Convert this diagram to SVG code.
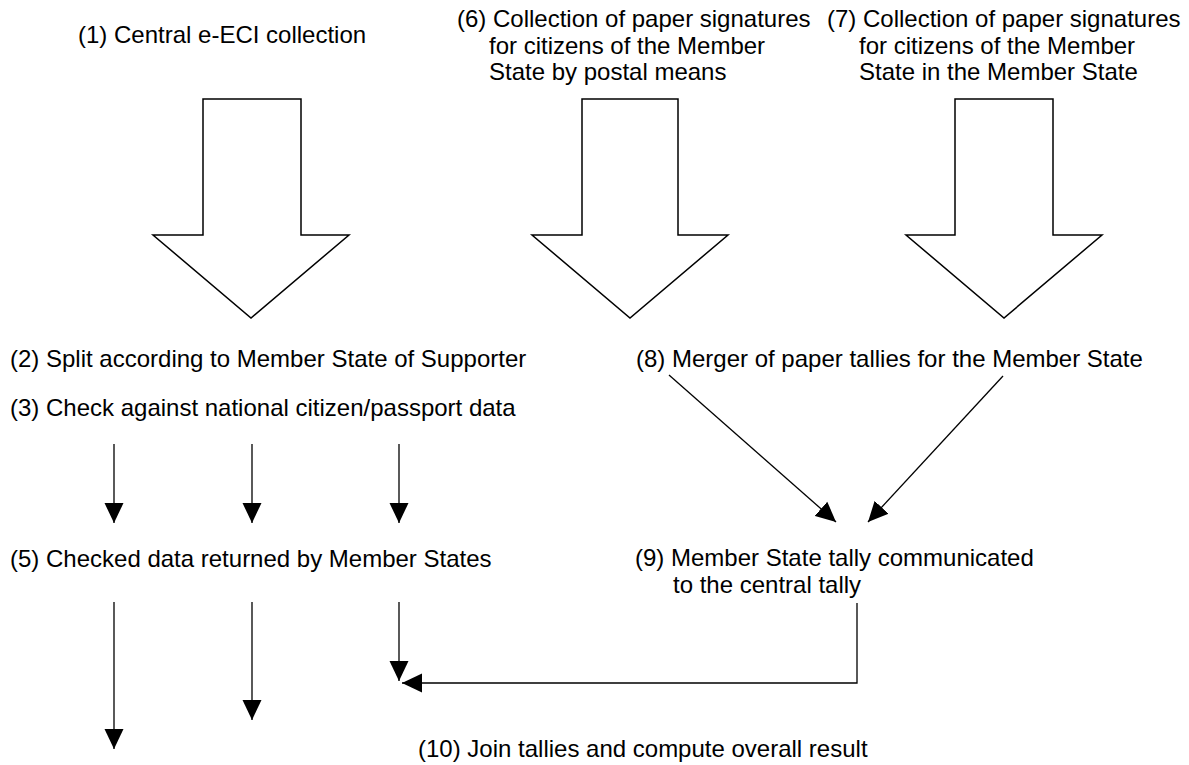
<svg xmlns="http://www.w3.org/2000/svg" width="1189" height="765" viewBox="0 0 1189 765">
<style>
text{font-family:"Liberation Sans",Arial,sans-serif;font-size:24px;fill:#000}
.big{fill:#fff;stroke:#000;stroke-width:1.5;stroke-linejoin:miter}
.ln{fill:none;stroke:#000;stroke-width:1.3}
</style>
<defs>
<marker id="ah" markerUnits="userSpaceOnUse" markerWidth="20" markerHeight="20" refX="20" refY="9.5" orient="auto" viewBox="0 0 20 19">
<path d="M0,0 L20,9.5 L0,19 Z" fill="#000"/>
</marker>
</defs>
<rect width="1189" height="765" fill="#fff"/>
<g id="connectors">
<path class="big" d="M203,99 H301 V235 H349 L251,318 L153,235 H203 Z"/>
<path class="big" d="M582,99 H678 V235 H728 L630,318 L532,235 H582 Z"/>
<path class="big" d="M955,99 H1053 V235 H1102 L1004,318 L906,235 H955 Z"/>
<line class="ln" x1="114" y1="444" x2="114" y2="523" marker-end="url(#ah)"/>
<line class="ln" x1="252" y1="444" x2="252" y2="523" marker-end="url(#ah)"/>
<line class="ln" x1="399" y1="444" x2="399" y2="523" marker-end="url(#ah)"/>
<line class="ln" x1="114" y1="602" x2="114" y2="749" marker-end="url(#ah)"/>
<line class="ln" x1="252" y1="602" x2="252" y2="720" marker-end="url(#ah)"/>
<line class="ln" x1="399" y1="602" x2="399" y2="681" marker-end="url(#ah)"/>
<line class="ln" x1="669" y1="375" x2="836" y2="522" marker-end="url(#ah)"/>
<line class="ln" x1="1003" y1="376" x2="868" y2="522" marker-end="url(#ah)"/>
<path class="ln" d="M857,603 V683 H402" marker-end="url(#ah)"/>
</g>
<g id="n1"><text x="78" y="43">(1) Central e-ECI collection</text></g>
<g id="n6"><text x="457" y="27">(6) Collection of paper signatures</text><text x="489" y="54">for citizens of the Member</text><text x="489" y="80">State by postal means</text></g>
<g id="n7"><text x="827" y="27">(7) Collection of paper signatures</text><text x="859" y="54">for citizens of the Member</text><text x="859" y="80">State in the Member State</text></g>
<g id="n2"><text x="10" y="367">(2) Split according to Member State of Supporter</text></g>
<g id="n8"><text x="636" y="367">(8) Merger of paper tallies for the Member State</text></g>
<g id="n3"><text x="10" y="416">(3) Check against national citizen/passport data</text></g>
<g id="n5"><text x="10" y="567">(5) Checked data returned by Member States</text></g>
<g id="n9"><text x="635" y="566">(9) Member State tally communicated</text><text x="673" y="593">to the central tally</text></g>
<g id="n10"><text x="418" y="757">(10) Join tallies and compute overall result</text></g>
</svg>
